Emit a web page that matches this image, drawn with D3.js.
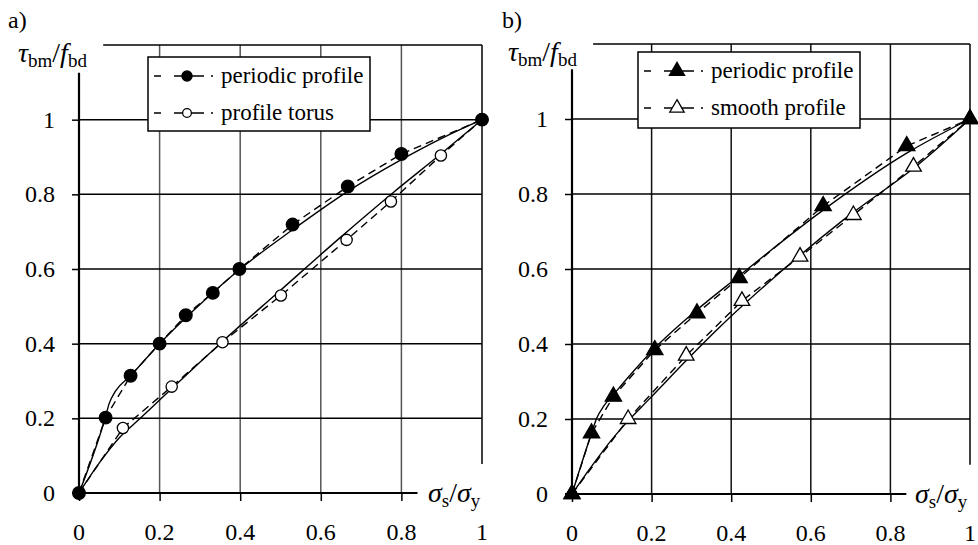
<!DOCTYPE html>
<html>
<head>
<meta charset="utf-8">
<script src="https://cdn.jsdelivr.net/npm/d3@7/dist/d3.min.js"></script>
</head>
<body style="margin:0">
<script>
// tick values shared by both panels
const xTicks = [0, 0.2, 0.4, 0.6, 0.8, 1];
const yTicks = [0, 0.2, 0.4, 0.6, 0.8, 1];

// panel a) - measured points (dashed) and fitted curves (solid)
const aPeriodicX = [0, 0.066, 0.128, 0.2, 0.265, 0.332, 0.398, 0.53, 0.667, 0.8, 1];
const aPeriodicY = [0, 0.202, 0.314, 0.4, 0.476, 0.536, 0.6, 0.719, 0.821, 0.908, 1];
const aPeriodicFitX = [0, 0.066, 0.075, 0.09, 0.128, 0.2, 0.3, 0.4, 0.53, 0.667, 0.8, 0.9, 1];
const aPeriodicFitY = [0, 0.205, 0.24, 0.272, 0.314, 0.4, 0.505, 0.6, 0.705, 0.808, 0.893, 0.95, 1];
const aTorusX = [0, 0.109, 0.23, 0.356, 0.501, 0.664, 0.774, 0.898, 1];
const aTorusY = [0, 0.174, 0.285, 0.404, 0.529, 0.678, 0.781, 0.904, 1];
const aTorusFitX = [0, 0.05, 0.1, 0.152, 0.2, 0.3, 0.354, 0.5, 0.648, 0.78, 0.9, 1];
const aTorusFitY = [0, 0.08, 0.148, 0.2, 0.249, 0.35, 0.404, 0.543, 0.684, 0.805, 0.91, 1];

// panel b)
const bPeriodicX = [0, 0.049, 0.104, 0.208, 0.314, 0.42, 0.631, 0.841, 1];
const bPeriodicY = [0, 0.162, 0.26, 0.384, 0.482, 0.576, 0.768, 0.928, 1];
const bPeriodicFitX = [0, 0.049, 0.062, 0.08, 0.104, 0.15, 0.209, 0.313, 0.418, 0.5, 0.631, 0.841, 1];
const bPeriodicFitY = [0, 0.162, 0.202, 0.235, 0.265, 0.322, 0.39, 0.49, 0.58, 0.65, 0.757, 0.909, 1];
const bSmoothX = [0, 0.141, 0.287, 0.427, 0.573, 0.707, 0.858, 1];
const bSmoothY = [0, 0.2, 0.369, 0.515, 0.633, 0.744, 0.873, 1];
const bSmoothFitX = [0, 0.05, 0.1, 0.141, 0.192, 0.3, 0.372, 0.5, 0.682, 0.874, 1];
const bSmoothFitY = [0, 0.075, 0.145, 0.195, 0.251, 0.37, 0.446, 0.57, 0.731, 0.882, 1];

const FONT = "Liberation Serif";
const zip = (xs, ys) => xs.map((x, i) => [x, ys[i]]);

const svg = d3.select("body").append("svg")
    .attr("width", 978)
    .attr("height", 545)
    .attr("font-family", FONT);

// every text goes through here so the serif face is set on the element itself
function label(parent, x, y, size, str) {
    return parent.append("text")
        .attr("x", x).attr("y", y)
        .attr("font-family", FONT)
        .style("font-family", `"${FONT}"`)
        .attr("font-size", size)
        .text(str);
}

function panel(cfg) {
    const x = d3.scaleLinear().domain([0, 1]).range(cfg.xRange);
    const y = d3.scaleLinear().domain([0, 1.2]).range(cfg.yRange);
    const g = svg.append("g");

    // grid
    g.selectAll(".vgrid").data(xTicks.filter(d => d > 0 && d < 1)).join("line")
        .attr("x1", d => x(d)).attr("x2", d => x(d))
        .attr("y1", y(0)).attr("y2", y(1.2))
        .attr("stroke", cfg.vGridColor).attr("stroke-width", 1.5);
    g.selectAll(".hgrid").data(yTicks.filter(d => d > 0)).join("line")
        .attr("x1", x(0)).attr("x2", x(1))
        .attr("y1", d => y(d)).attr("y2", d => y(d))
        .attr("stroke", "#000").attr("stroke-width", 1.5);

    // frame: top and right
    g.append("line")
        .attr("x1", x(cfg.topStart)).attr("x2", x(1))
        .attr("y1", y(1.2)).attr("y2", y(1.2))
        .attr("stroke", "#000").attr("stroke-width", 1.5);
    g.append("line")
        .attr("x1", x(1)).attr("x2", x(1))
        .attr("y1", y(1.2)).attr("y2", y(0.078))
        .attr("stroke", "#000").attr("stroke-width", 1.5);

    // axes: d3 draws the tick marks, labels are written below
    const yAxis = g.append("g")
        .attr("transform", `translate(${x(0)},0)`)
        .call(d3.axisLeft(y).tickValues(yTicks).tickSize(7).tickFormat(""));
    yAxis.select(".domain").remove();

    const xAxis = g.append("g")
        .attr("transform", `translate(0,${y(0)})`)
        .call(d3.axisBottom(x).tickValues(xTicks.filter(d => d < 1)).tickSize(8).tickFormat(""));
    xAxis.select(".domain").remove();
    g.selectAll(".tick line").attr("stroke-width", 1.5);
    g.selectAll(".tick text").remove();

    yTicks.forEach(d => {
        label(g, x(0) - 24, y(d) + 8, 24, String(d)).attr("text-anchor", "end");
    });
    xTicks.forEach(d => {
        label(g, x(d), y(0) + 47, 24, String(d)).attr("text-anchor", "middle");
    });

    g.append("line")
        .attr("x1", x(0)).attr("x2", x(0))
        .attr("y1", y(0)).attr("y2", y(cfg.yAxisTop))
        .attr("stroke", "#000").attr("stroke-width", 2.2);
    g.append("line")
        .attr("x1", x(0) - 7).attr("x2", x(0.84))
        .attr("y1", y(0)).attr("y2", y(0))
        .attr("stroke", "#000").attr("stroke-width", 2.2);

    // series
    const line = d3.line().x(d => x(d[0])).y(d => y(d[1]));
    const fit = d3.line().x(d => x(d[0])).y(d => y(d[1])).curve(d3.curveMonotoneX);

    cfg.series.forEach(s => {
        g.append("path").datum(zip(s.fitX, s.fitY))
            .attr("d", fit).attr("fill", "none")
            .attr("stroke", "#000").attr("stroke-width", 1.4);
        g.append("path").datum(zip(s.xs, s.ys))
            .attr("d", line).attr("fill", "none")
            .attr("stroke", "#000").attr("stroke-width", 1.4)
            .attr("stroke-dasharray", "8,5");
    });
    // markers on top, open ones first
    cfg.series.slice().reverse().forEach(s => {
        g.selectAll(null).data(zip(s.xs, s.ys)).join("path")
            .attr("transform", d => `translate(${x(d[0])},${y(d[1])})`)
            .attr("d", d3.symbol().type(s.symbol).size(s.size))
            .attr("fill", s.filled ? "#000" : "#fff")
            .attr("stroke", "#000").attr("stroke-width", 1.3);
    });

    // legend
    const lg = g.append("g");
    lg.append("rect")
        .attr("x", cfg.legend.x).attr("y", cfg.legend.y)
        .attr("width", cfg.legend.w).attr("height", cfg.legend.h)
        .attr("fill", "#fff").attr("stroke", "#000").attr("stroke-width", 1.5);
    cfg.series.forEach((s, i) => {
        const ly = cfg.legend.y + 19 + i * 37;
        const lx = cfg.legend.x + 6;
        lg.append("line")
            .attr("x1", lx).attr("x2", lx + 60)
            .attr("y1", ly).attr("y2", ly)
            .attr("stroke", "#000").attr("stroke-width", 1.5)
            .attr("stroke-dasharray", "7,13,30,7,2,100");
        lg.append("path")
            .attr("transform", `translate(${lx + 33},${ly})`)
            .attr("d", d3.symbol().type(s.symbol).size(s.legendSize))
            .attr("fill", s.filled ? "#000" : "#fff")
            .attr("stroke", "#000").attr("stroke-width", 1.3);
        label(lg, lx + 67, ly + 7, 23, s.name);
    });

    // axis titles
    const yt = label(g, cfg.yTitle[0], cfg.yTitle[1], 28, null);
    yt.append("tspan").attr("font-style", "italic").text("τ");
    yt.append("tspan").attr("dy", 5).attr("font-size", 19).text("bm");
    yt.append("tspan").attr("dy", -5).text("/");
    yt.append("tspan").attr("font-style", "italic").text("f");
    yt.append("tspan").attr("dy", 5).attr("font-size", 19).text("bd");

    const xt = label(g, cfg.xTitle[0], cfg.xTitle[1], 28, null);
    xt.append("tspan").attr("font-style", "italic").text("σ");
    xt.append("tspan").attr("dy", 5).attr("font-size", 19).text("s");
    xt.append("tspan").attr("dy", -5).text("/");
    xt.append("tspan").attr("font-style", "italic").text("σ");
    xt.append("tspan").attr("dy", 5).attr("font-size", 19).text("y");

    label(g, cfg.tag[0], cfg.tag[1], 24, cfg.tag[2]);
}

panel({
    xRange: [79, 482], yRange: [493, 45],
    topStart: 0.06, yAxisTop: 1.126, vGridColor: "#555",
    legend: { x: 148, y: 57, w: 222, h: 74 },
    yTitle: [18, 62], xTitle: [428, 502], tag: [8, 28, "a)"],
    series: [
        { name: "periodic profile", xs: aPeriodicX, ys: aPeriodicY, fitX: aPeriodicFitX, fitY: aPeriodicFitY,
          symbol: d3.symbolCircle, size: 125, legendSize: 80, filled: true },
        { name: "profile torus", xs: aTorusX, ys: aTorusY, fitX: aTorusFitX, fitY: aTorusFitY,
          symbol: d3.symbolCircle, size: 100, legendSize: 60, filled: false }
    ]
});

panel({
    xRange: [572, 970], yRange: [494, 44],
    topStart: 0.053, yAxisTop: 1.133, vGridColor: "#111",
    legend: { x: 638, y: 52, w: 222, h: 76 },
    yTitle: [508, 61], xTitle: [915, 503], tag: [502, 28, "b)"],
    series: [
        { name: "periodic profile", xs: bPeriodicX, ys: bPeriodicY, fitX: bPeriodicFitX, fitY: bPeriodicFitY,
          symbol: d3.symbolTriangle, size: 115, legendSize: 100, filled: true },
        { name: "smooth profile", xs: bSmoothX, ys: bSmoothY, fitX: bSmoothFitX, fitY: bSmoothFitY,
          symbol: d3.symbolTriangle, size: 105, legendSize: 90, filled: false }
    ]
});
</script>
</body>
</html>
